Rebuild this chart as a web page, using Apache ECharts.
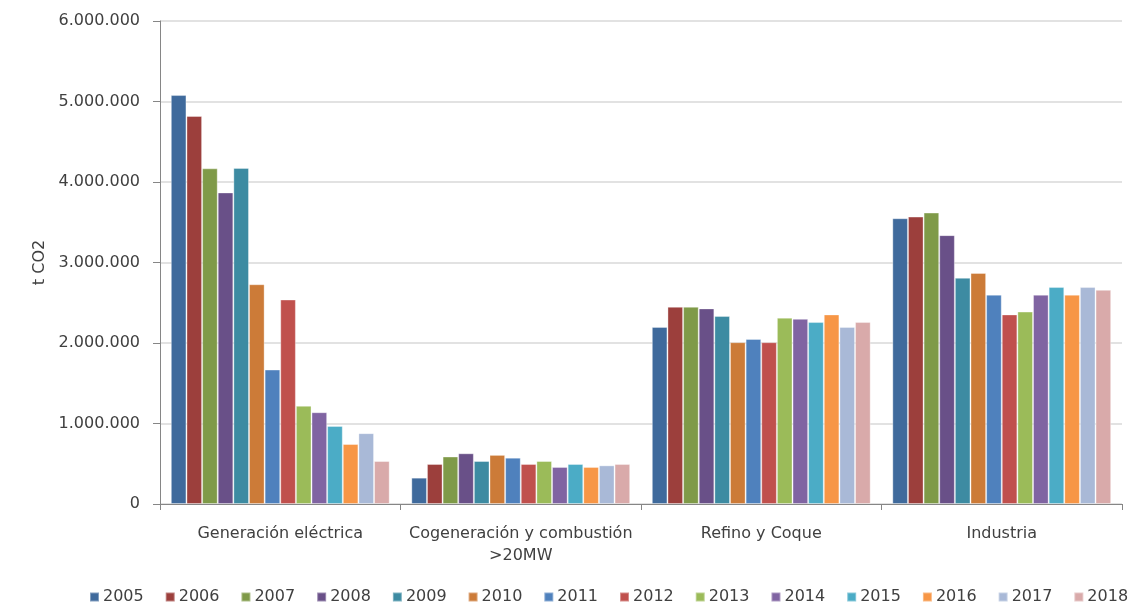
<!DOCTYPE html>
<html>
<head>
<meta charset="utf-8">
<script src="https://cdn.jsdelivr.net/npm/echarts@6/dist/echarts.min.js"></script>
<style>
  html, body { margin: 0; padding: 0; background: #ffffff; }
  #chart { width: 1130px; height: 605px; }
</style>
</head>
<body>
<div id="chart"></div>
<script>
// Emissions by sector (t CO2), one series per year
const categories = ['Generación eléctrica', 'Cogeneración y combustión\n>20MW', 'Refino y Coque', 'Industria'];
const years = ['2005', '2006', '2007', '2008', '2009', '2010', '2011', '2012', '2013', '2014', '2015', '2016', '2017', '2018'];

const v2005 = [5080000, 327000, 2200000, 3550000];
const v2006 = [4820000, 497000, 2450000, 3570000];
const v2007 = [4170000, 590000, 2450000, 3620000];
const v2008 = [3870000, 630000, 2430000, 3340000];
const v2009 = [4175000, 534000, 2335000, 2810000];
const v2010 = [2730000, 610000, 2010000, 2870000];
const v2011 = [1670000, 575000, 2050000, 2600000];
const v2012 = [2540000, 497000, 2010000, 2355000];
const v2013 = [1220000, 534000, 2315000, 2390000];
const v2014 = [1140000, 460000, 2300000, 2600000];
const v2015 = [970000, 497000, 2260000, 2695000];
const v2016 = [745000, 460000, 2355000, 2600000];
const v2017 = [880000, 480000, 2200000, 2695000];
const v2018 = [534000, 497000, 2260000, 2660000];

const yearValues = [v2005, v2006, v2007, v2008, v2009, v2010, v2011, v2012, v2013, v2014, v2015, v2016, v2017, v2018];
const colors = ['#3F6A9C', '#9C3F3C', '#7F9A48', '#695088', '#3D8BA2', '#CC7B38', '#4F81BD',
                '#C0504D', '#9BBB59', '#8064A2', '#4BACC6', '#F79646', '#A9B9D7', '#D9AAAA'];

const textColor = '#404040';
const font = 'DejaVu Sans';

function fmt(v) {
  return String(v).replace(/\B(?=(\d{3})+(?!\d))/g, '.');
}

const series = years.map((y, i) => ({
  name: y,
  type: 'bar',
  data: yearValues[i],
  barGap: '0%',
  barCategoryGap: '9%',
  itemStyle: { color: colors[i], borderColor: 'rgba(255,255,255,0.35)', borderWidth: 1 }
}));

const chart = echarts.init(document.getElementById('chart'), null, { renderer: 'canvas' });
chart.setOption({
  animation: false,
  color: colors,
  textStyle: { fontFamily: font, color: textColor },
  grid: { left: 160, right: 8, top: 21, bottom: 101 },
  legend: {
    left: 89,
    top: 589,
    width: 1041,
    padding: 0,
    itemWidth: 9,
    itemHeight: 9,
    itemGap: 21,
    icon: 'rect',
    textStyle: { fontFamily: font, fontSize: 16, color: textColor, padding: [0, 0, 0, -1] },
    data: years
  },
  xAxis: {
    type: 'category',
    data: categories,
    axisLine: { lineStyle: { color: '#868686', width: 1 } },
    axisTick: { show: true, length: 6, lineStyle: { color: '#868686' } },
    axisLabel: { fontFamily: font, fontSize: 16, color: textColor, margin: 19, lineHeight: 22, interval: 0 }
  },
  yAxis: {
    type: 'value',
    min: 0,
    max: 6000000,
    interval: 1000000,
    name: 't CO2',
    nameLocation: 'middle',
    nameGap: 112,
    nameTextStyle: { fontFamily: font, fontSize: 16, color: textColor },
    axisLine: { show: true, lineStyle: { color: '#868686', width: 1 } },
    axisTick: { show: true, length: 7, lineStyle: { color: '#868686' } },
    splitLine: { lineStyle: { color: '#D9D9D9', width: 1.5 } },
    axisLabel: { fontFamily: font, fontSize: 16, color: textColor, margin: 20, formatter: fmt }
  },
  series: series
});
</script>
</body>
</html>
